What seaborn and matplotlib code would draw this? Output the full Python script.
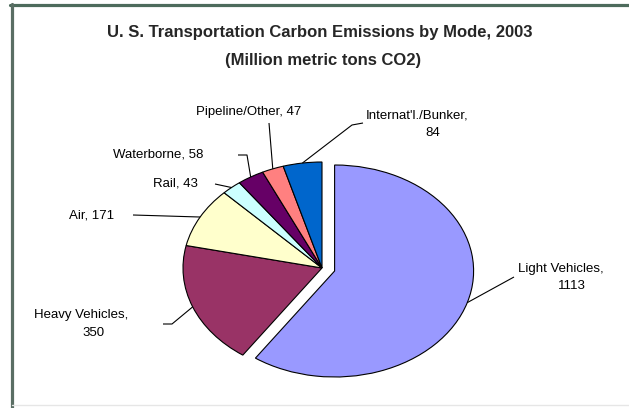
import matplotlib
matplotlib.use("Agg")
import math
import matplotlib.pyplot as plt
import seaborn as sns
from matplotlib.lines import Line2D

# ---- data ----
modes = ["Light Vehicles", "Heavy Vehicles", "Air", "Rail", "Waterborne",
         "Pipeline/Other", "Internat'l./Bunker"]
emissions = [1113, 350, 171, 43, 58, 47, 84]
colors_hex = ["#9999FF", "#993366", "#FFFFCC", "#CCFFFF", "#660066",
              "#FF8080", "#0066CC"]
title_lines = ["U. S. Transportation Carbon Emissions by Mode, 2003",
               "(Million metric tons CO2)"]

# label text lines for each slice
label_lines = [
    ["Light Vehicles,", "1113"],
    ["Heavy Vehicles,", "350"],
    ["Air, 171"],
    ["Rail, 43"],
    ["Waterborne, 58"],
    ["Pipeline/Other, 47"],
    ["Internat'l./Bunker,", "84"],
]

# ---- layout (pixels from top-left) ----
W, H = 629, 408
CX, CY, RX, RY = 322, 268, 139, 106
explode_amt = [0.095, 0, 0, 0, 0, 0, 0]
label_pos = [
    [(561, 269), (572, 286)],
    [(81, 315), (94, 333)],
    [(92, 216)],
    [(175, 183)],
    [(158, 155)],
    [(249, 112)],
    [(417, 115), (433, 133)],
]
leader_pts = [
    [(514, 277)],
    [(163, 324), (172, 324)],
    [(133, 215)],
    [(215, 184)],
    [(238, 155), (247, 155)],
    [(269, 123)],
    [(363, 123), (352, 125)],
]

sns.set_theme(style="white")
plt.rcParams['font.family'] = ['Liberation Sans', 'DejaVu Sans']

fig = plt.figure(figsize=(W / 100, H / 100), dpi=100)
fig.patch.set_facecolor("white")
ax = fig.add_axes([0, 0, 1, 1])
palette = sns.color_palette(colors_hex)

wedges, _ = ax.pie(emissions, colors=palette, startangle=90, counterclock=False,
                   explode=explode_amt,
                   wedgeprops=dict(edgecolor="black", linewidth=0.8))
ax.set_aspect("auto")
ax.set_xlim(-CX / RX, (W - CX) / RX)
ax.set_ylim(-(H - CY) / RY, CY / RY)
ax.axis("off")


def to_data(px, py):
    return (px - CX) / RX, (CY - py) / RY


for w, lines, poss, pts in zip(wedges, label_lines, label_pos, leader_pts):
    for t, (px, py) in zip(lines, poss):
        x, y = to_data(px, py)
        ax.text(x, y, t, ha="center", va="center", fontsize=9.5, color="black")
    mid = math.radians((w.theta1 + w.theta2) / 2)
    ex = w.center[0] + math.cos(mid)
    ey = w.center[1] + math.sin(mid)
    xs = [to_data(*p)[0] for p in pts] + [ex]
    ys = [to_data(*p)[1] for p in pts] + [ey]
    ax.plot(xs, ys, color="black", lw=0.8, solid_capstyle="butt")

fig.text(320 / W, 1 - 33 / H, title_lines[0], ha="center", va="center",
         fontsize=12, fontweight="bold")
fig.text(323 / W, 1 - 61 / H, title_lines[1], ha="center", va="center",
         fontsize=12, fontweight="bold")

# chart frame
fig.add_artist(Line2D([10 / W, 1], [1 - 5 / H, 1 - 5 / H], transform=fig.transFigure,
                      color="#4d6b5c", lw=2.3))
fig.add_artist(Line2D([12 / W, 12 / W], [1 - 4 / H, 0], transform=fig.transFigure,
                      color="#5a6e64", lw=2.3))
fig.add_artist(Line2D([12 / W, 1], [1 - 405 / H, 1 - 405 / H], transform=fig.transFigure,
                      color="#e6e6e6", lw=1))

fig.savefig("out.png", dpi=100, facecolor="white")
